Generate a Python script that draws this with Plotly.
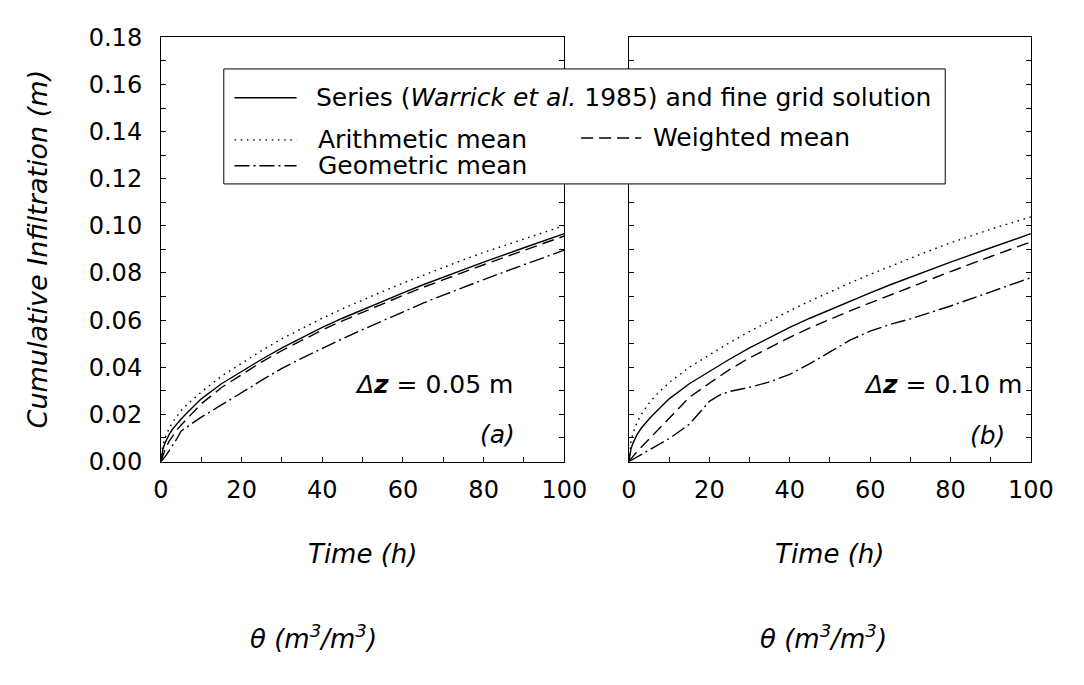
import plotly.graph_objects as go

# Page body keeps its default 8px margin; the figure fills the rest of the
# 1084x685 window, and all placements below are given in window pixels.
WIN_W, WIN_H = 1084, 685
OFF = 8
W, H = WIN_W - 2 * OFF, WIN_H - 2 * OFF

# ---------------- data ----------------
time_h = [0, 0.5, 1, 2, 3, 4, 5, 6, 7.5, 10, 15, 20, 22.5, 25, 30, 35, 40,
          45, 50, 55, 60, 65, 70, 75, 80, 90, 100]

series_fine = [0, 0.0054, 0.0078, 0.0114, 0.0140, 0.0162, 0.0180, 0.0198, 0.0225,
               0.0266, 0.0330, 0.0383, 0.0409, 0.0434, 0.0482, 0.0527, 0.0569,
               0.0608, 0.0645, 0.0681, 0.0716, 0.0750, 0.0783, 0.0815, 0.0846,
               0.0907, 0.0967]
arith_a = [0, 0.0070, 0.0100, 0.0140, 0.0170, 0.0195, 0.0216, 0.0234, 0.0258,
           0.0295, 0.0362, 0.0418, 0.0445, 0.0471, 0.0521, 0.0566, 0.0608,
           0.0648, 0.0686, 0.0722, 0.0757, 0.0791, 0.0824, 0.0856, 0.0887,
           0.0945, 0.1001]
weighted_a = [0, 0.0030, 0.0050, 0.0085, 0.0112, 0.0135, 0.0155, 0.0173, 0.0200,
              0.0245, 0.0314, 0.0370, 0.0397, 0.0423, 0.0471, 0.0516, 0.0558,
              0.0597, 0.0634, 0.0670, 0.0705, 0.0739, 0.0772, 0.0804, 0.0835,
              0.0896, 0.0957]
geometric_a = [0, 0.0010, 0.0020, 0.0045, 0.0070, 0.0098, 0.0130, 0.0142, 0.0158,
               0.0188, 0.0240, 0.0290, 0.0318, 0.0345, 0.0395, 0.0439, 0.0481,
               0.0521, 0.0560, 0.0598, 0.0636, 0.0672, 0.0706, 0.0740, 0.0772,
               0.0835, 0.0897]
arith_b = [0, 0.0085, 0.0120, 0.0165, 0.0198, 0.0225, 0.0248, 0.0268, 0.0295,
           0.0335, 0.0400, 0.0452, 0.0479, 0.0504, 0.0552, 0.0597, 0.0640,
           0.0681, 0.0720, 0.0758, 0.0794, 0.0829, 0.0863, 0.0896, 0.0928,
           0.0986, 0.1038]
weighted_b = [0, 0.0012, 0.0022, 0.0042, 0.0060, 0.0078, 0.0096, 0.0113, 0.0138,
              0.0185, 0.0272, 0.0332, 0.0362, 0.0390, 0.0440, 0.0485, 0.0527,
              0.0567, 0.0604, 0.0639, 0.0673, 0.0707, 0.0740, 0.0773, 0.0806,
              0.0870, 0.0932]
geometric_b = [0, 0.0005, 0.0010, 0.0019, 0.0029, 0.0038, 0.0048, 0.0058, 0.0072,
               0.0097, 0.0158, 0.0255, 0.0282, 0.0297, 0.0315, 0.0338, 0.0370,
               0.0415, 0.0465, 0.0515, 0.0553, 0.0582, 0.0605, 0.0632, 0.0660,
               0.0720, 0.0780]

y_ticks = [0, 0.01, 0.02, 0.03, 0.04, 0.05, 0.06, 0.07, 0.08, 0.09, 0.10,
           0.11, 0.12, 0.13, 0.14, 0.15, 0.16, 0.17, 0.18]
y_tick_labels = ["0.00", "", "0.02", "", "0.04", "", "0.06", "", "0.08", "",
                 "0.10", "", "0.12", "", "0.14", "", "0.16", "", "0.18"]
x_ticks = [0, 10, 20, 30, 40, 50, 60, 70, 80, 90, 100]
x_tick_labels = ["0", "", "20", "", "40", "", "60", "", "80", "", "100"]

legend_labels = ["Series (<i>Warrick et al.</i> 1985) and fine grid solution",
                 "Arithmetic mean", "Weighted mean", "Geometric mean"]
panel_notes = ["<i>\u0394</i><b><i>z</i></b> = 0.05 m", "<i>\u0394</i><b><i>z</i></b> = 0.10 m"]
panel_tags = ["<i>(a)</i>", "<i>(b)</i>"]

# ---------------- styling ----------------
FONT = "DejaVu Sans"
LW = 1.4
DASH_SOLID = "solid"
DASH_DOT = "1.6px,4.6px"
DASH_DASH = "12px,6px"
DASH_DASHDOT = "15px,4px,2px,4px"


def fx(p):
    return (p - OFF) / W


def fy(p):
    return 1 - (p - OFF) / H


fig = go.Figure()
panels = [
    ("x", "y", [series_fine, arith_a, weighted_a, geometric_a]),
    ("x2", "y2", [series_fine, arith_b, weighted_b, geometric_b]),
]
dashes = [DASH_SOLID, DASH_DOT, DASH_DASH, DASH_DASHDOT]
for xa, ya, ys in panels:
    for vals, d in zip(ys, dashes):
        fig.add_trace(go.Scatter(x=time_h, y=vals, xaxis=xa, yaxis=ya, mode="lines",
                                 line=dict(color="black", width=LW, dash=d),
                                 showlegend=False, hoverinfo="skip"))

axis_common = dict(showline=True, linecolor="black", linewidth=1, ticks="inside",
                   ticklen=5, tickwidth=1, tickcolor="black", showgrid=False,
                   zeroline=False, tickfont=dict(family=FONT, size=24, color="black"))

y_dom = [fy(466.7), fy(24)]
fig.update_layout(
    width=W, height=H, autosize=False,
    margin=dict(l=0, r=0, t=0, b=0, pad=0),
    paper_bgcolor="white", plot_bgcolor="white",
    showlegend=False,
    xaxis=dict(domain=[fx(157.3), fx(572.7)], range=[0, 100], tickvals=x_ticks,
               ticktext=x_tick_labels, mirror=True, anchor="y",
               ticklabelstandoff=7, **axis_common),
    yaxis=dict(domain=y_dom, range=[0, 0.18], tickvals=y_ticks, ticktext=y_tick_labels,
               mirror="ticks", anchor="x", ticklabelstandoff=13, **axis_common),
    xaxis2=dict(domain=[fx(639.3), fx(1053.3)], range=[0, 100], tickvals=x_ticks,
                ticktext=x_tick_labels, mirror=True, anchor="y2",
                ticklabelstandoff=7, **axis_common),
    yaxis2=dict(domain=y_dom, range=[0, 0.18], tickvals=y_ticks, ticktext=y_tick_labels,
                mirror="ticks", anchor="x2", showticklabels=False, **axis_common),
)

# ---------------- legend box (drawn manually) ----------------
box = dict(l=222, r=965, t=57, b=177)
fig.add_shape(type="rect", xref="paper", yref="paper", x0=fx(box["l"]), x1=fx(box["r"]),
              y0=fy(box["b"]), y1=fy(box["t"]), fillcolor="white",
              line=dict(color="black", width=1), layer="above")

legend_rows = [
    (233, 297, 87, 315, DASH_SOLID, legend_labels[0]),
    (233, 297, 131, 317, DASH_DOT, legend_labels[1]),
    (590, 652, 129, 662, DASH_DASH, legend_labels[2]),
    (233, 297, 158, 317, DASH_DASHDOT, legend_labels[3]),
]
for x0, x1, yy, tx, d, lab in legend_rows:
    fig.add_shape(type="line", xref="paper", yref="paper", x0=fx(x0), x1=fx(x1),
                  y0=fy(yy), y1=fy(yy), line=dict(color="black", width=LW, dash=d),
                  layer="above")
    fig.add_annotation(xref="paper", yref="paper", x=fx(tx), y=fy(yy), text=lab,
                       showarrow=False, xanchor="left", yanchor="middle",
                       font=dict(family=FONT, size=25, color="black"))


# ---------------- text ----------------
def ann(x, y, text, size, angle=0, xanchor="center"):
    fig.add_annotation(xref="paper", yref="paper", x=fx(x), y=fy(y), text=text,
                       showarrow=False, xanchor=xanchor, yanchor="middle",
                       textangle=angle, font=dict(family=FONT, size=size, color="black"))


ann(438, 386, panel_notes[0], 25)
ann(963, 386, panel_notes[1], 25)
ann(504, 439, panel_tags[0], 25)
ann(1009, 440, panel_tags[1], 25)
ann(365, 563, "<i>Time (h)</i>", 26)
ann(846, 563, "<i>Time (h)</i>", 26)
ann(30, 245, "<i>Cumulative Infiltration (m)</i>", 27, angle=-90)
ann(314, 650, "<i>\u03b8 (m<sup>3</sup>/m<sup>3</sup>)</i>", 26)
ann(840, 650, "<i>\u03b8 (m<sup>3</sup>/m<sup>3</sup>)</i>", 26)

fig.write_html("out.html")
